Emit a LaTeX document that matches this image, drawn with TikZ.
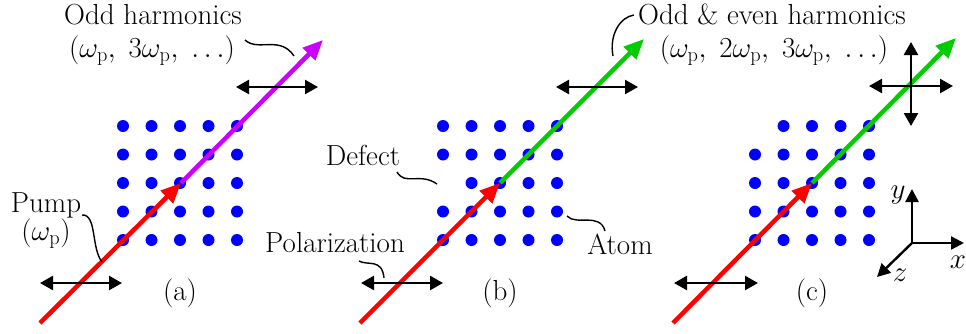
\RequirePackage{fix-cm}
\documentclass[tikz,border=0pt]{standalone}
\usepackage{fontspec}
\usetikzlibrary{arrows.meta}
\definecolor{beamred}{RGB}{255,0,0}
\definecolor{beamviolet}{RGB}{204,0,255}
\definecolor{beamgreen}{RGB}{0,204,0}
\definecolor{atomblue}{RGB}{0,0,255}
\newcommand\omp{\omega_{\mathrm{p}}}
\begin{document}
\begin{tikzpicture}[x=1pt,y=-1pt,
  atom/.style={circle,fill=atomblue,inner sep=0pt,minimum size=12pt},
  beam/.style={line width=4.5pt,-{Triangle[length=20pt,width=17pt]}},
  pol/.style={line width=2.4pt,{Triangle[length=13pt,width=14pt]}-{Triangle[length=13pt,width=14pt]}},
  axis/.style={line width=2.4pt,-{Triangle[length=13pt,width=13pt]}},
  squig/.style={line width=1.4pt},
  lbl/.style={font=\fontsize{29}{34}\selectfont,inner sep=0pt,anchor=base}]
\useasboundingbox (0,0) rectangle (966,333);

% ---------- atoms ----------
\foreach \i in {0,...,4}{\foreach \j in {0,...,4}{
  \node[atom] (a\i\j) at ({123+28.5*\i},{126+28.5*\j}) {};
  \ifnum\numexpr\i*10+\j\relax=2 \else
    \node[atom] (b\i\j) at ({443+28.5*\i},{126+28.5*\j}) {};
  \fi
  \ifnum\numexpr\i*10+\j\relax=0 \else
    \node[atom] (c\i\j) at ({755+28.5*\i},{126+28.5*\j}) {};
  \fi
}}

% ---------- beam coordinates ----------
\coordinate (sA) at (40,323);  \coordinate (mA) at (181,183); \coordinate (eA) at (323,40);
\coordinate (sB) at (360,323); \coordinate (mB) at (500,183); \coordinate (eB) at (644,39);
\coordinate (sC) at (673,323); \coordinate (mC) at (812,183); \coordinate (eC) at (956,38);

\draw[beam,beamviolet] (mA) -- (eA);
\draw[beam,beamred] (sA) -- (mA);
\draw[beam,beamgreen] (mB) -- (eB);
\draw[beam,beamred] (sB) -- (mB);
\draw[beam,beamgreen] (mC) -- (eC);
\draw[beam,beamred] (sC) -- (mC);

% ---------- polarization arrows ----------
\coordinate (pA1) at (40,283);  \coordinate (pA2) at (122,283);
\coordinate (qA1) at (236,87);  \coordinate (qA2) at (318,87);
\coordinate (pB1) at (361,283); \coordinate (pB2) at (443,283);
\coordinate (qB1) at (556,87);  \coordinate (qB2) at (638,87);
\coordinate (pC1) at (674,283); \coordinate (pC2) at (758,283);
\coordinate (qC1) at (869,86);  \coordinate (qC2) at (953,86);
\coordinate (rC1) at (911,42);  \coordinate (rC2) at (911,126);
\draw[pol] (pA1) -- (pA2);
\draw[pol] (qA1) -- (qA2);
\draw[pol] (pB1) -- (pB2);
\draw[pol] (qB1) -- (qB2);
\draw[pol] (pC1) -- (pC2);
\draw[pol] (qC1) -- (qC2);
\draw[pol] (rC1) -- (rC2);

% ---------- axes ----------
\coordinate (O) at (912,243);
\coordinate (Ox) at (964,243);
\coordinate (Oy) at (912,189);
\coordinate (Oz) at (877,277);
\draw[axis] (O) -- (Ox);
\draw[axis] (O) -- (Oy);
\draw[axis] (O) -- (Oz);
\node[lbl] (ly) at (898,198) {$y$};
\node[lbl] (lx) at (958,268) {$x$};
\node[lbl] (lz) at (900,281) {$z$};

% ---------- labels ----------
\node[lbl] (oddA) at (153,24) {Odd harmonics};
\node[lbl] (oddA2) at (152,57) {$(\omp,\;3\omp,\;\ldots)$};
\node[lbl] (oddB) at (772,24) {Odd \& even harmonics};
\node[lbl] (oddB2) at (774,57) {$(\omp,\;2\omp,\;3\omp,\;\ldots)$};
\node[lbl] (pump) at (46,212) {Pump};
\node[lbl] (pump2) at (46,240) {$(\omp)$};
\node[lbl] (polar) at (335,252) {Polarization};
\node[lbl] (defect) at (363,165) {Defect};
\node[lbl] (atomlbl) at (620,254) {Atom};
\node[lbl] (capA) at (180,300) {(a)};
\node[lbl] (capB) at (500,300) {(b)};
\node[lbl] (capC) at (812,300) {(c)};

% ---------- squiggles ----------
\coordinate (sqA1) at (245,40);  \coordinate (sqA2) at (294,56);
\draw[squig] (sqA1) .. controls (258,52) and (280,35) .. (sqA2);
\coordinate (sqP1) at (82,215);  \coordinate (sqP2) at (102,262);
\draw[squig] (sqP1) .. controls (97,214) and (91,248) .. (sqP2);
\coordinate (sqE1) at (613,56);  \coordinate (sqE2) at (634,15);
\draw[squig] (sqE1) .. controls (609,35) and (620,17) .. (sqE2);
\coordinate (sqL1) at (359,261); \coordinate (sqL2) at (384,278);
\draw[squig] (sqL1) .. controls (368,266) and (382,258) .. (sqL2);
\coordinate (sqD1) at (397,172); \coordinate (sqD2) at (437,184);
\draw[squig] (sqD1) .. controls (405,186) and (420,172) .. (sqD2);
\coordinate (sqT1) at (567,216); \coordinate (sqT2) at (605,231);
\draw[squig] (sqT1) .. controls (576,226) and (600,212) .. (sqT2);
\end{tikzpicture}
\end{document}
